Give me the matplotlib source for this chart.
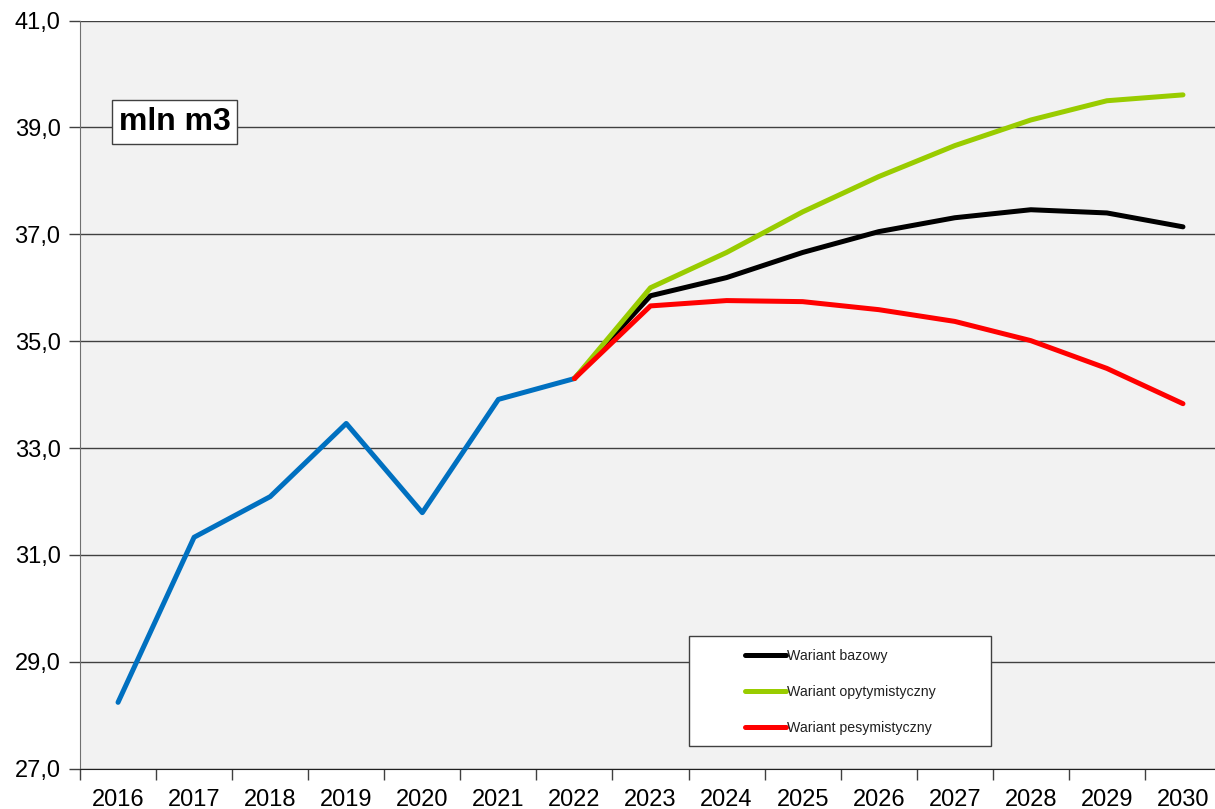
import matplotlib.pyplot as plt
from matplotlib.patches import Rectangle
import numpy as np

plt.rcParams['font.family'] = ['Liberation Sans', 'DejaVu Sans']

years = [str(y) for y in range(2016, 2031)]
historia = [28.24, 31.33, 32.09, 33.46, 31.79, 33.91, 34.30]
bazowy = [34.30, 35.85, 36.19, 36.66, 37.05, 37.31, 37.46, 37.40, 37.14]
optym = [34.30, 36.00, 36.66, 37.42, 38.08, 38.66, 39.14, 39.50, 39.61]
pesym = [34.30, 35.66, 35.76, 35.74, 35.59, 35.37, 35.01, 34.49, 33.83]
yticks = [27, 29, 31, 33, 35, 37, 39, 41]

x = np.arange(len(years)) + 0.5
xh = x[:len(historia)]
xp = x[len(historia) - 1:]

W, H = 1141, 748  # plot area in pixels
fig = plt.figure(figsize=(12.15, 8.09), dpi=100)
ax = fig.add_axes([80 / 1215, 40.4 / 809, W / 1215, H / 809])
ax.set_facecolor('#f2f2f2')


def px(xx, yy):
    # pixel position in the picture -> axes fraction
    return (xx - 80) / W, (768.6 - yy) / H


lw = 3.6
ax.plot(xh, historia, color='#0070c0', lw=lw, solid_capstyle='round', zorder=3)
l1, = ax.plot(xp, bazowy, color='black', lw=lw, solid_capstyle='round', zorder=4)
l2, = ax.plot(xp, optym, color='#99cc00', lw=lw, solid_capstyle='round', zorder=4)
l3, = ax.plot(xp, pesym, color='#ff0000', lw=lw, solid_capstyle='round', zorder=5)

ax.set_xlim(0, len(years))
ax.set_ylim(27, 41)
ax.set_yticks(yticks)
ax.set_yticklabels([f'{v:.1f}'.replace('.', ',') for v in yticks], fontsize=17)
ax.set_xticks(x)
ax.set_xticklabels(years, fontsize=17)
ax.set_xticks(np.arange(len(years) + 1), minor=True)
ax.tick_params(axis='x', which='major', length=0, pad=15)
ax.tick_params(axis='x', which='minor', length=8, width=1, color='#404040')
ax.tick_params(axis='y', length=8, width=1, color='#404040', pad=6)
ax.yaxis.grid(True, color='#404040', lw=1)
ax.set_axisbelow(True)
for s in ['top', 'right']:
    ax.spines[s].set_visible(False)
ax.spines['left'].set_color('#707070')
ax.spines['bottom'].set_color('#202020')

# "mln m3" label box
bx0, by0 = px(112, 144)
bx1, by1 = px(237, 100)
ax.add_patch(Rectangle((bx0, by0), bx1 - bx0, by1 - by0, transform=ax.transAxes,
                       fc='white', ec='#404040', lw=1, zorder=6))
ax.text((bx0 + bx1) / 2, (by0 + by1) / 2, 'mln m3', transform=ax.transAxes,
        fontsize=23, fontweight='bold', ha='center', va='center', zorder=7)

# legend box
lx0, ly0 = px(689, 746)
lx1, ly1 = px(991, 636)
ax.add_patch(Rectangle((lx0, ly0), lx1 - lx0, ly1 - ly0, transform=ax.transAxes,
                       fc='white', ec='#404040', lw=1, zorder=6))
leg = ax.legend([l1, l2, l3], ['Wariant bazowy', 'Wariant opytymistyczny', 'Wariant pesymistyczny'],
                loc='upper left', bbox_to_anchor=px(745, 649), frameon=False,
                fontsize=10.2, handlelength=2.9, handletextpad=0.05, labelspacing=1.55,
                borderpad=0, borderaxespad=0)
leg.set_zorder(8)
for t in leg.get_texts():
    t.set_color('#202020')

plt.savefig('out.png')
